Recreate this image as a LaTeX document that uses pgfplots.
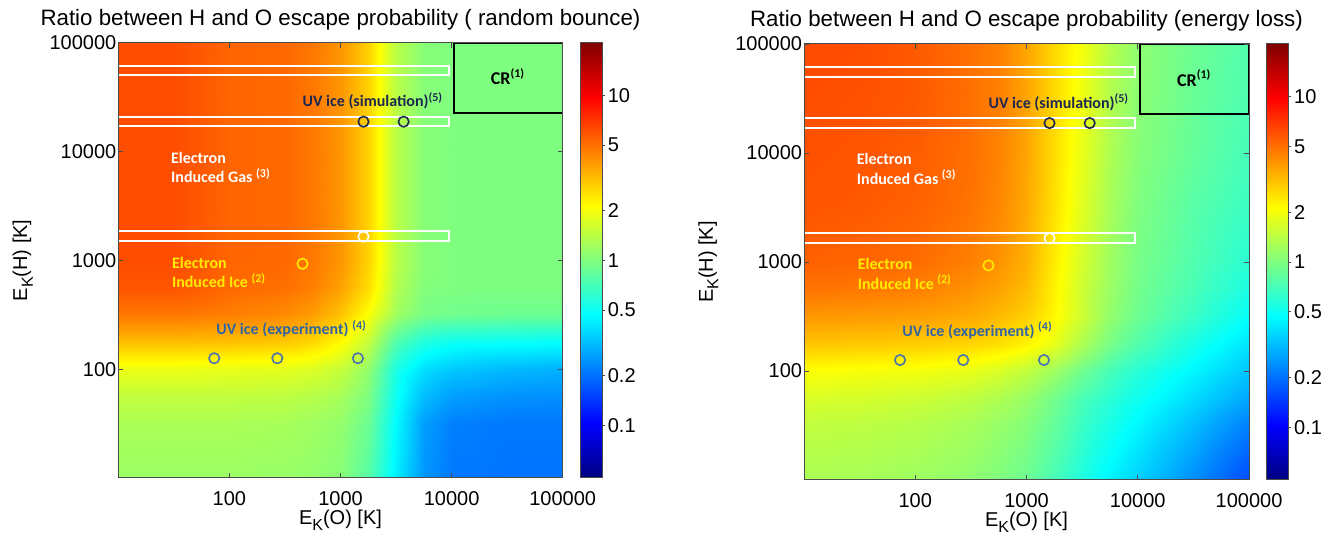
\documentclass[border=0pt]{standalone}
\usepackage{fontspec}
\setmainfont{Liberation Sans}
\newfontfamily\calib{Carlito}
\usepackage{pgfplots}
\usepackage{pgfplotstable}
\pgfplotsset{compat=1.18}

\definecolor{navytxt}{RGB}{28,40,82}
\definecolor{steeltxt}{RGB}{48,100,165}
\definecolor{steelcirc}{RGB}{75,115,175}
\definecolor{yel}{RGB}{255,235,0}

% log10 of the ratio; x = E_K(O), y = E_K(H)
\pgfplotstableread{
x y v
10 10 0.07
31.62 10 0.07
100 10 0.07
316.2 10 0.06
562.3 10 0.05
1000 10 0.02
1778 10 -0.10
3162 10 -0.37
5623 10 -0.60
10000 10 -0.68
31623 10 -0.69
100000 10 -0.69
10 31.62 0.11
31.62 31.62 0.11
100 31.62 0.11
316.2 31.62 0.10
562.3 31.62 0.08
1000 31.62 0.05
1778 31.62 -0.05
3162 31.62 -0.34
5623 31.62 -0.58
10000 31.62 -0.66
31623 31.62 -0.68
100000 31.62 -0.68
10 56.23 0.17
31.62 56.23 0.17
100 56.23 0.17
316.2 56.23 0.16
562.3 56.23 0.14
1000 56.23 0.10
1778 56.23 0.00
3162 56.23 -0.30
5623 56.23 -0.50
10000 56.23 -0.58
31623 56.23 -0.61
100000 56.23 -0.62
10 100 0.28
31.62 100 0.28
100 100 0.27
316.2 100 0.26
562.3 100 0.24
1000 100 0.18
1778 100 0.05
3162 100 -0.26
5623 100 -0.41
10000 100 -0.47
31623 100 -0.51
100000 100 -0.53
10 177.8 0.50
31.62 177.8 0.50
100 177.8 0.49
316.2 177.8 0.47
562.3 177.8 0.43
1000 177.8 0.34
1778 177.8 0.18
3162 177.8 -0.12
5623 177.8 -0.25
10000 177.8 -0.30
31623 177.8 -0.31
100000 177.8 -0.32
10 316.2 0.68
31.62 316.2 0.68
100 316.2 0.66
316.2 316.2 0.63
562.3 316.2 0.58
1000 316.2 0.48
1778 316.2 0.32
3162 316.2 0.08
5623 316.2 -0.02
10000 316.2 -0.04
31623 316.2 -0.05
100000 316.2 -0.05
10 562.3 0.77
31.62 562.3 0.77
100 562.3 0.72
316.2 562.3 0.70
562.3 562.3 0.66
1000 562.3 0.57
1778 562.3 0.42
3162 562.3 0.13
5623 562.3 0.01
10000 562.3 0.00
31623 562.3 0.00
100000 562.3 0.00
10 1000 0.79
31.62 1000 0.79
100 1000 0.73
316.2 1000 0.72
562.3 1000 0.68
1000 1000 0.60
1778 1000 0.45
3162 1000 0.15
5623 1000 0.02
10000 1000 0.00
31623 1000 0.00
100000 1000 0.00
10 3162 0.79
31.62 3162 0.79
100 3162 0.73
316.2 3162 0.72
562.3 3162 0.68
1000 3162 0.60
1778 3162 0.45
3162 3162 0.15
5623 3162 0.02
10000 3162 0.00
31623 3162 0.00
100000 3162 0.00
10 10000 0.79
31.62 10000 0.79
100 10000 0.73
316.2 10000 0.72
562.3 10000 0.68
1000 10000 0.60
1778 10000 0.45
3162 10000 0.15
5623 10000 0.02
10000 10000 0.00
31623 10000 0.00
100000 10000 0.00
10 31623 0.79
31.62 31623 0.79
100 31623 0.73
316.2 31623 0.72
562.3 31623 0.68
1000 31623 0.60
1778 31623 0.45
3162 31623 0.15
5623 31623 0.02
10000 31623 0.00
31623 31623 0.00
100000 31623 0.00
10 100000 0.79
31.62 100000 0.79
100 100000 0.73
316.2 100000 0.72
562.3 100000 0.68
1000 100000 0.60
1778 100000 0.45
3162 100000 0.15
5623 100000 0.02
10000 100000 0.00
31623 100000 0.00
100000 100000 0.00
}\dataL

\pgfplotstableread{
x y v
10 10 0.11
31.62 10 0.10
100 10 0.08
316.2 10 0.04
562.3 10 0.00
1000 10 -0.05
1778 10 -0.14
3162 10 -0.25
5623 10 -0.36
10000 10 -0.45
31623 10 -0.62
100000 10 -0.80
10 31.62 0.17
31.62 31.62 0.16
100 31.62 0.14
316.2 31.62 0.10
562.3 31.62 0.06
1000 31.62 0.01
1778 31.62 -0.07
3162 31.62 -0.18
5623 31.62 -0.27
10000 31.62 -0.35
31623 31.62 -0.50
100000 31.62 -0.66
10 56.23 0.23
31.62 56.23 0.22
100 56.23 0.20
316.2 56.23 0.16
562.3 56.23 0.12
1000 56.23 0.06
1778 56.23 -0.03
3162 56.23 -0.14
5623 56.23 -0.22
10000 56.23 -0.29
31623 56.23 -0.42
100000 56.23 -0.56
10 100 0.32
31.62 100 0.31
100 100 0.30
316.2 100 0.27
562.3 100 0.23
1000 100 0.17
1778 100 0.08
3162 100 -0.04
5623 100 -0.15
10000 100 -0.23
31623 100 -0.35
100000 100 -0.48
10 177.8 0.48
31.62 177.8 0.47
100 177.8 0.46
316.2 177.8 0.44
562.3 177.8 0.41
1000 177.8 0.36
1778 177.8 0.27
3162 177.8 0.12
5623 177.8 -0.02
10000 177.8 -0.12
31623 177.8 -0.27
100000 177.8 -0.40
10 316.2 0.60
31.62 316.2 0.59
100 316.2 0.58
316.2 316.2 0.55
562.3 316.2 0.51
1000 316.2 0.45
1778 316.2 0.35
3162 316.2 0.20
5623 316.2 0.05
10000 316.2 -0.05
31623 316.2 -0.18
100000 316.2 -0.32
10 562.3 0.69
31.62 562.3 0.68
100 562.3 0.66
316.2 562.3 0.61
562.3 562.3 0.57
1000 562.3 0.50
1778 562.3 0.36
3162 562.3 0.20
5623 562.3 0.07
10000 562.3 -0.03
31623 562.3 -0.14
100000 562.3 -0.26
10 1000 0.74
31.62 1000 0.73
100 1000 0.71
316.2 1000 0.66
562.3 1000 0.61
1000 1000 0.53
1778 1000 0.38
3162 1000 0.22
5623 1000 0.08
10000 1000 -0.02
31623 1000 -0.12
100000 1000 -0.22
10 3162 0.77
31.62 3162 0.76
100 3162 0.74
316.2 3162 0.69
562.3 3162 0.64
1000 3162 0.55
1778 3162 0.41
3162 3162 0.25
5623 3162 0.10
10000 3162 0.00
31623 3162 -0.10
100000 3162 -0.18
10 10000 0.78
31.62 10000 0.77
100 10000 0.75
316.2 10000 0.70
562.3 10000 0.65
1000 10000 0.56
1778 10000 0.42
3162 10000 0.27
5623 10000 0.12
10000 10000 0.02
31623 10000 -0.07
100000 10000 -0.15
10 31623 0.79
31.62 31623 0.78
100 31623 0.76
316.2 31623 0.70
562.3 31623 0.66
1000 31623 0.56
1778 31623 0.43
3162 31623 0.29
5623 31623 0.13
10000 31623 0.03
31623 31623 -0.06
100000 31623 -0.13
10 100000 0.80
31.62 100000 0.79
100 100000 0.76
316.2 100000 0.70
562.3 100000 0.66
1000 100000 0.56
1778 100000 0.43
3162 100000 0.30
5623 100000 0.14
10000 100000 0.04
31623 100000 -0.05
100000 100000 -0.12
}\dataR

\pgfplotsset{
  every tick label/.append style={font=\fontsize{10}{12}\selectfont},
  every colorbar/.append style={
      scale only axis,
      width=11pt,
      ytick={-1,-0.69897,-0.30103,0,0.30103,0.69897,1},
      yticklabels={0.1,0.2,0.5,1,2,5,10},
      ytick pos=right,
      tick align=outside, major tick length=1.5pt,
      tick style={black!70, line width=0.4pt},
      axis line style={black!70, line width=0.5pt},
      yticklabel style={anchor=west, inner sep=0pt, xshift=1.2pt, font=\fontsize{10}{12}\selectfont},
  },
}

\newcommand{\annots}{%
  \draw[white, line width=1pt] (axis cs:5,50000) rectangle (axis cs:9500,61000);
  \draw[white, line width=1pt] (axis cs:5,17000) rectangle (axis cs:9500,20800);
  \draw[white, line width=1pt] (axis cs:5,1500) rectangle (axis cs:9500,1860);
  \draw[black, line width=1pt] (axis cs:10500,22600) rectangle (axis cs:100000,100000);
  \addplot[only marks, mark=o, mark size=2.6pt, mark options={draw=navytxt, line width=0.8pt}] coordinates {(1610,18800) (3700,18800)};
  \addplot[only marks, mark=o, mark size=2.6pt, mark options={draw=white, line width=0.8pt}] coordinates {(1610,1650)};
  \addplot[only marks, mark=o, mark size=2.6pt, mark options={draw=yel, line width=0.8pt}] coordinates {(455,930)};
  \addplot[only marks, mark=o, mark size=2.6pt, mark options={draw=steelcirc, line width=0.8pt}] coordinates {(73,126) (270,126) (1435,126)};
  \node[anchor=base, inner sep=0pt, font=\calib\bfseries\fontsize{9}{10}\selectfont, text=black] at (rel axis cs:0.877,0.903) {CR\textsuperscript{(1)}};
  \node[anchor=base west, inner sep=0pt, font=\calib\bfseries\fontsize{8}{9}\selectfont, text=navytxt] at (rel axis cs:0.414,0.853) {UV ice (simulation)\textsuperscript{(5)}};
  \node[anchor=base west, inner sep=0pt, font=\calib\bfseries\fontsize{8}{9}\selectfont, text=white] at (rel axis cs:0.118,0.723) {Electron};
  \node[anchor=base west, inner sep=0pt, font=\calib\bfseries\fontsize{8}{9}\selectfont, text=white] at (rel axis cs:0.118,0.678) {Induced Gas \textsuperscript{(3)}};
  \node[anchor=base west, inner sep=0pt, font=\calib\bfseries\fontsize{8}{9}\selectfont, text=yel] at (rel axis cs:0.120,0.482) {Electron};
  \node[anchor=base west, inner sep=0pt, font=\calib\bfseries\fontsize{8}{9}\selectfont, text=yel] at (rel axis cs:0.120,0.437) {Induced Ice \textsuperscript{(2)}};
  \node[anchor=base west, inner sep=0pt, font=\calib\bfseries\fontsize{8}{9}\selectfont, text=steeltxt] at (rel axis cs:0.220,0.329) {UV ice (experiment) \textsuperscript{(4)}};
}

\begin{document}
\begin{tikzpicture}
\path[use as bounding box] (0,0) rectangle (666.5pt,266.5pt);
\begin{axis}[
    scale only axis,
    at={(59.15pt,27.5pt)}, anchor=south west,
    width=222.2pt, height=217.65pt,
    xmode=log, ymode=log,
    xmin=10, xmax=100000, ymin=10, ymax=100000,
    xtick={100,1000,10000,100000}, xticklabels={100,1000,10000,100000},
    ytick={100,1000,10000,100000}, yticklabels={100,1000,10000,100000},
    xminorticks=false, yminorticks=false,
    tick align=inside, major tick length=2.5pt,
    tick style={black!70, line width=0.4pt},
    axis line style={black!70, line width=0.5pt},
    xticklabel style={anchor=base, yshift=-13.6pt},
    yticklabel style={anchor=east, inner sep=0pt, xshift=-0.8pt},
    title={Ratio between H and O escape probability ( random bounce)},
    title style={at={(axis description cs:0.5,1.039)}, anchor=base, yshift=-6pt, font=\fontsize{11.15}{13}\selectfont},
    xlabel={E\raisebox{-2.8pt}{\fontsize{8}{8}\selectfont K}(O) [K]},
    ylabel={E\raisebox{-2.8pt}{\fontsize{8}{8}\selectfont K}(H) [K]},
    xlabel style={at={(axis description cs:0.5,-0.107)}, anchor=base, font=\fontsize{10}{12}\selectfont},
    ylabel style={at={(axis description cs:-0.205,0.5)}, anchor=base, font=\fontsize{10}{12}\selectfont},
    axis on top,
    colormap/jet,
    point meta min=-1.32, point meta max=1.32,
    colorbar,
    colorbar style={at={(1.039,1)}, anchor=north west},
  ]
  \addplot[surf, shader=interp, mesh/cols=12, point meta=explicit] table[x=x, y=y, meta=v] {\dataL};
  \annots
\end{axis}
\begin{axis}[
    scale only axis,
    at={(402pt,26.5pt)}, anchor=south west,
    width=222.5pt, height=218pt,
    xmode=log, ymode=log,
    xmin=10, xmax=100000, ymin=10, ymax=100000,
    xtick={100,1000,10000,100000}, xticklabels={100,1000,10000,100000},
    ytick={100,1000,10000,100000}, yticklabels={100,1000,10000,100000},
    xminorticks=false, yminorticks=false,
    tick align=inside, major tick length=2.5pt,
    tick style={black!70, line width=0.4pt},
    axis line style={black!70, line width=0.5pt},
    xticklabel style={anchor=base, yshift=-13.6pt},
    yticklabel style={anchor=east, inner sep=0pt, xshift=-0.8pt},
    title={Ratio between H and O escape probability (energy loss)},
    title style={at={(axis description cs:0.5,1.039)}, anchor=base, yshift=-6pt, font=\fontsize{11.15}{13}\selectfont},
    xlabel={E\raisebox{-2.8pt}{\fontsize{8}{8}\selectfont K}(O) [K]},
    ylabel={E\raisebox{-2.8pt}{\fontsize{8}{8}\selectfont K}(H) [K]},
    xlabel style={at={(axis description cs:0.5,-0.107)}, anchor=base, font=\fontsize{10}{12}\selectfont},
    ylabel style={at={(axis description cs:-0.205,0.5)}, anchor=base, font=\fontsize{10}{12}\selectfont},
    axis on top,
    colormap/jet,
    point meta min=-1.32, point meta max=1.32,
    colorbar,
    colorbar style={at={(1.039,1)}, anchor=north west},
  ]
  \addplot[surf, shader=interp, mesh/cols=12, point meta=explicit] table[x=x, y=y, meta=v] {\dataR};
  \annots
\end{axis}
\end{tikzpicture}
\end{document}
